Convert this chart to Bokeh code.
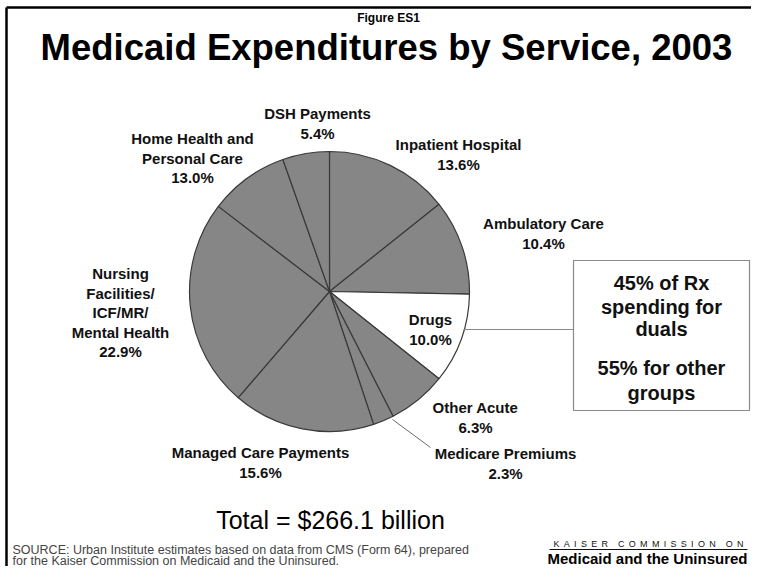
import math
from bokeh.plotting import figure
from bokeh.models import ColumnDataSource, Range1d
from bokeh.core.properties import value
from bokeh.embed import file_html
from bokeh.resources import INLINE

# ---- data ----
categories = ["Inpatient Hospital", "Ambulatory Care", "Drugs", "Other Acute",
              "Medicare Premiums", "Managed Care Payments",
              "Nursing\nFacilities/\nICF/MR/\nMental Health",
              "Home Health and\nPersonal Care", "DSH Payments"]
label_pct = [13.6, 10.4, 10.0, 6.3, 2.3, 15.6, 22.9, 13.0, 5.4]
# slice shares as drawn in the picture (angles measured)
drawn_share = [14.3, 11.0, 10.4, 6.8, 2.4, 16.4, 24.1, 9.2, 5.4]
highlight = ["Drugs"]

title_small = "Figure ES1"
title_main = "Medicaid Expenditures by Service, 2003"
total_text = "Total = $266.1 billion"
callout_lines = ["45% of Rx", "spending for", "duals", "55% for other", "groups"]
source_lines = ["SOURCE: Urban Institute estimates based on data from CMS (Form 64), prepared",
                "for the Kaiser Commission on Medicaid and the Uninsured."]
logo_top = "KAISER COMMISSION ON"
logo_bottom = "Medicaid and the Uninsured"

# ---- layout (picture pixel coordinates, y downwards) ----
W, H = 751, 566
REF_H = 582


def Y(y):
    return REF_H - y


CX, CY, R = 329, 291, 140
label_pos = [(458, 144), (543, 223), (430, 319), (475, 407), (505, 453),
             (260, 452), (120, 273), (192, 138), (317, 113)]
LINE_STEP = 19.5
FONT = "Liberation Sans"
BOX_L, BOX_R, BOX_T, BOX_B = 573, 749, 260, 410
NB = "\u00a0"
THIN = "\u2009"

p = figure(width=W, height=H, x_range=Range1d(0, W),
           y_range=Range1d(REF_H - H, REF_H),
           output_backend="svg", toolbar_location=None, min_border=0,
           x_axis_location=None, y_axis_location=None)
p.grid.visible = False
p.outline_line_color = None
p.background_fill_color = "white"
p.border_fill_color = "white"

# frame lines (top and left)
p.line(x=[6, W], y=[Y(7), Y(7)], line_color="black", line_width=2.5)
p.line(x=[6, 6], y=[Y(7), Y(H)], line_color="black", line_width=2.5)

# pie
total = sum(drawn_share)
starts, ends = [], []
cum = 0.0
for s in drawn_share:
    starts.append(math.pi / 2 - 2 * math.pi * cum / total)
    cum += s
    ends.append(math.pi / 2 - 2 * math.pi * cum / total)
colors = ["white" if c in highlight else "#868686" for c in categories]
src = ColumnDataSource(dict(start=starts, end=ends, color=colors))
p.wedge(x=CX, y=Y(CY), radius=R, start_angle="start", end_angle="end",
        direction="clock", fill_color="color", line_color="#3a3a3a",
        line_width=1.2, source=src)

# leader lines
p.line(x=[463, BOX_L], y=[Y(329), Y(329)], line_color="#8a8a8a", line_width=1.2)
p.line(x=[392, 430], y=[Y(419), Y(447)], line_color="#6a6a6a", line_width=1)

# slice labels
lx, ly, lt = [], [], []
for name, pct, (px, py) in zip(categories, label_pct, label_pos):
    lines = name.split("\n") + [f"{pct:.1f}%"]
    for i, t in enumerate(lines):
        lx.append(px)
        ly.append(Y(py + i * LINE_STEP))
        lt.append(t)
p.text(x=lx, y=ly, text=lt, text_font=value(FONT), text_font_style="bold",
       text_font_size="15px", text_align="center", text_baseline="middle",
       text_color="#111111")

# titles
p.text(x=[388], y=[Y(17)], text=[title_small], text_font=value(FONT),
       text_font_style="bold", text_font_size="12px", text_align="center",
       text_baseline="middle", text_color="black")
p.text(x=[386], y=[Y(47)], text=[title_main], text_font=value(FONT),
       text_font_style="bold", text_font_size="36.5px", text_align="center",
       text_baseline="middle", text_color="black")

# callout box
p.quad(left=BOX_L, right=BOX_R, top=Y(BOX_T), bottom=Y(BOX_B), fill_color="white",
       line_color="#8a8a8a", line_width=1.2)
cy_lines = [282, 306, 328, 367, 392]
p.text(x=[(BOX_L + BOX_R) / 2] * len(callout_lines), y=[Y(v) for v in cy_lines],
       text=callout_lines, text_font=value(FONT), text_font_style="bold",
       text_font_size="20px", text_align="center", text_baseline="middle",
       text_color="#111111")

# total
p.text(x=[330], y=[Y(519)], text=[total_text], text_font=value(FONT),
       text_font_size="25px", text_align="center", text_baseline="middle",
       text_color="black")

# source
p.text(x=[12, 12], y=[Y(549), Y(560)], text=source_lines, text_font=value(FONT),
       text_font_size="12.5px", text_align="left", text_baseline="middle",
       text_color="#444444")

# logo
spaced = (NB * 4).join((NB + THIN).join(w) for w in logo_top.split(" "))
p.text(x=[648], y=[Y(543)], text=[spaced],
       text_font=value(FONT), text_font_size="9px", text_align="center",
       text_baseline="middle", text_color="#111111")
p.line(x=[549, 747], y=[Y(549), Y(549)], line_color="#111111", line_width=1)
p.text(x=[647], y=[Y(558)], text=[logo_bottom], text_font=value(FONT),
       text_font_style="bold", text_font_size="15px", text_align="center",
       text_baseline="middle", text_color="black")

open("out.html", "w").write(file_html(p, INLINE))
